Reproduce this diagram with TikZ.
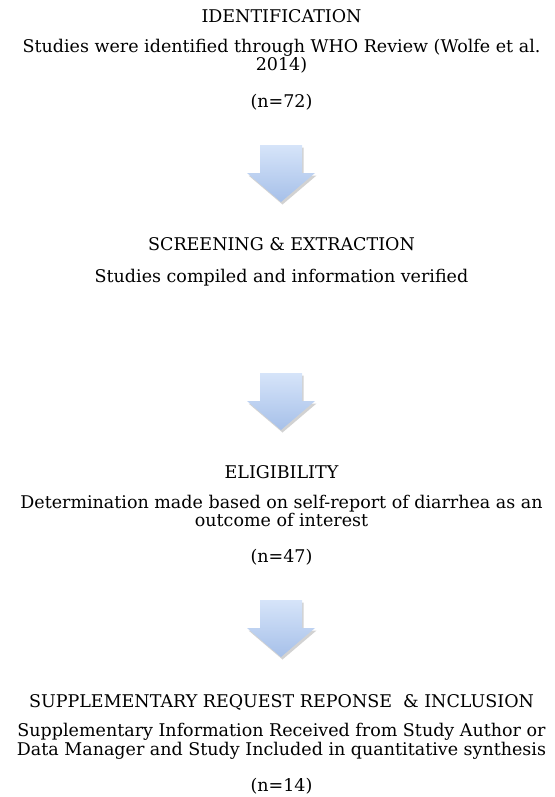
\documentclass[tikz,border=0pt]{standalone}
\usepackage{fontspec}
\setmainfont{DejaVu Serif}
\usetikzlibrary{shadows}
\definecolor{arrowtop}{RGB}{214,228,249}
\definecolor{arrowbot}{RGB}{166,192,233}

\begin{document}
\begin{tikzpicture}[x=1pt,y=1pt,
  every node/.style={font=\fontsize{17.5}{16.5}\selectfont,inner sep=0pt,anchor=base},
  stage/.style={},
  note/.style={align=center},
  blockarrow/.style={top color=arrowtop,bottom color=arrowbot,draw=none,
    drop shadow={shadow xshift=1.5pt,shadow yshift=-2.5pt,opacity=0.25,fill=black!70}}]
\useasboundingbox (0,0) rectangle (554,-797);
\node[stage] (ident) at (281.5,-23) {IDENTIFICATION};
\node[note] (identtext) at (281.5,-71) {Studies were identified through WHO Review (Wolfe et al.\\2014)};
\node (n72) at (281.5,-107) {(n=72)};
\node[stage] (screen) at (281.5,-250) {SCREENING \& EXTRACTION};
\node[note] (screentext) at (281.5,-282) {Studies compiled and information verified};
\node[stage] (elig) at (281.5,-478) {ELIGIBILITY};
\node[note] (eligtext) at (281.5,-526) {Determination made based on self-report of diarrhea as an\\outcome of interest};
\node (n47) at (281.5,-562) {(n=47)};
\node[stage] (supp) at (281.5,-707) {SUPPLEMENTARY REQUEST REPONSE \ \& INCLUSION};
\node[note] (supptext) at (281.5,-755) {Supplementary Information Received from Study Author or\\Data Manager and Study Included in quantitative synthesis};
\node (n14) at (281.5,-791) {(n=14)};
% arrows between the stages
\coordinate (arr1) at (281,-145);
\coordinate (arr2) at (281,-373);
\coordinate (arr3) at (281,-600);
\foreach \a in {arr1,arr2,arr3}
  \path[blockarrow] (\a) ++(-21,0) -- ++(42,0) -- ++(0,-28) -- ++(13,0)
    -- ++(-34,-29) -- ++(-34,29) -- ++(13,0) -- cycle;
\end{tikzpicture}
\end{document}
